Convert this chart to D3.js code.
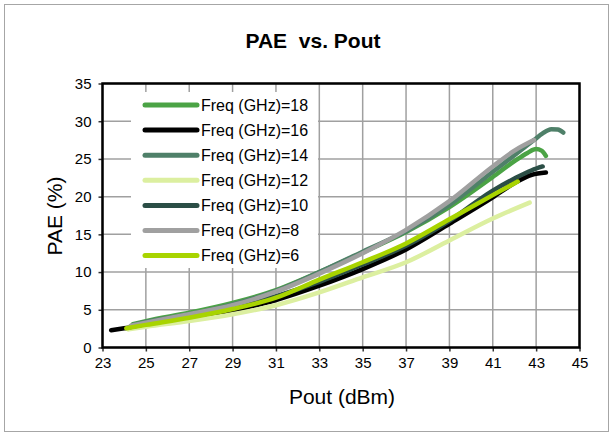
<!DOCTYPE html>
<html>
<head>
<meta charset="utf-8">
<script src="https://cdn.jsdelivr.net/npm/d3@7"></script>
<style>
	body { margin: 0; background: #fff; }
	svg { display: block; font-family: Arial, "Liberation Sans", sans-serif; }
</style>
</head>
<body>
<svg width="613" height="436"></svg>
<script>
// series, in legend order (last one drawn on top)
const freqs = [18, 16, 14, 12, 10, 8, 6];
const colours = ['#4ba345', '#000000', '#4f8069', '#dcefa0', '#2b4e46', '#a0a0a0', '#a8d400'];

const pout_f18 = [24.4, 25, 27, 29, 31, 33, 35, 37, 39, 41, 42, 42.6, 43.0, 43.25, 43.45];
const pae_f18  = [3.1, 3.5, 4.6, 5.9, 7.6, 10.0, 12.6, 15.3, 18.6, 22.6, 24.7, 25.8, 26.3, 26.1, 25.4];
const pout_f16 = [23.4, 24, 25, 27, 29, 31, 33, 35, 37, 39, 41, 42, 42.8, 43.45];
const pae_f16  = [2.3, 2.55, 2.9, 3.8, 4.9, 6.3, 8.2, 10.4, 13.0, 16.4, 19.9, 21.8, 22.9, 23.2];
const pout_f14 = [24.4, 25, 27, 29, 31, 33, 35, 37, 39, 41, 42, 42.9, 43.3, 43.7, 44.0, 44.25];
const pae_f14  = [3.0, 3.4, 4.4, 5.7, 7.5, 10.0, 12.7, 15.4, 18.9, 23.3, 25.5, 27.5, 28.4, 28.95, 28.9, 28.5];
const pout_f12 = [24.2, 25, 27, 29, 31, 33, 35, 37, 39, 41, 42.7];
const pae_f12  = [2.4, 2.75, 3.5, 4.4, 5.6, 7.3, 9.3, 11.3, 14.2, 17.1, 19.2];
const pout_f10 = [24.3, 25, 27, 29, 31, 33, 35, 37, 39, 41, 42, 42.8, 43.3];
const pae_f10  = [2.7, 3.1, 4.1, 5.3, 6.8, 8.7, 11.0, 13.5, 16.8, 20.8, 22.4, 23.5, 24.0];
const pout_f8  = [24.3, 25, 27, 29, 31, 33, 35, 37, 39, 41, 42, 42.9];
const pae_f8   = [2.9, 3.3, 4.4, 5.6, 7.4, 9.8, 12.5, 15.6, 19.4, 24.0, 26.1, 27.5];
const pout_f6  = [24.1, 25, 27, 29, 31, 33, 35, 37, 39, 41, 42.15];
const pae_f6   = [2.55, 3.0, 3.95, 5.1, 6.6, 9.0, 11.3, 13.8, 17.0, 20.2, 22.0];

const xTicks = [23, 25, 27, 29, 31, 33, 35, 37, 39, 41, 43, 45];
const yTicks = [0, 5, 10, 15, 20, 25, 30, 35];

const pouts = [pout_f18, pout_f16, pout_f14, pout_f12, pout_f10, pout_f8, pout_f6];
const paes = [pae_f18, pae_f16, pae_f14, pae_f12, pae_f10, pae_f8, pae_f6];

const plot = { left: 102.5, right: 579.5, top: 83.5, bottom: 347.5 };

let svg = d3.select('svg');

// outer frame
svg.append('rect')
	.attr('x', 4.5).attr('y', 4.5)
	.attr('width', 604).attr('height', 427)
	.attr('fill', '#fff')
	.attr('stroke', '#a6a6a6');

let x = d3.scaleLinear().domain([23, 45]).range([plot.left, plot.right]);
let y = d3.scaleLinear().domain([0, 35]).range([plot.bottom, plot.top]);

// gridlines
let grid = svg.append('g').attr('class', 'grid');
grid.selectAll('line.v')
	.data(xTicks)
	.enter().append('line')
	.attr('x1', d => x(d)).attr('x2', d => x(d))
	.attr('y1', plot.top).attr('y2', plot.bottom)
	.attr('stroke', '#a0a0a0').attr('stroke-width', 1.5);
grid.selectAll('line.h')
	.data(yTicks)
	.enter().append('line')
	.attr('x1', plot.left).attr('x2', plot.right)
	.attr('y1', d => y(d)).attr('y2', d => y(d))
	.attr('stroke', '#a0a0a0').attr('stroke-width', 1.5);

// axes
let xAxis = svg.append('g')
	.attr('transform', 'translate(0,' + plot.bottom + ')')
	.call(d3.axisBottom(x).tickValues(xTicks).tickSize(4).tickSizeOuter(0).tickPadding(6));
let yAxis = svg.append('g')
	.attr('transform', 'translate(' + plot.left + ',0)')
	.call(d3.axisLeft(y).tickValues(yTicks).tickSize(4).tickSizeOuter(0).tickPadding(7));

[xAxis, yAxis].forEach(function(a){
	a.select('.domain').remove();
	a.selectAll('.tick line').attr('stroke', '#333').attr('stroke-width', 1.5);
	a.selectAll('.tick text')
		.attr('fill', '#000')
		.style('font-size', '15px')
		.style('font-family', 'Arial, "Liberation Sans", sans-serif');
});

// plot frame
svg.append('rect')
	.attr('x', plot.left).attr('y', plot.top)
	.attr('width', plot.right - plot.left).attr('height', plot.bottom - plot.top)
	.attr('fill', 'none')
	.attr('stroke', '#000')
	.attr('stroke-width', 2.5);

// legend box (hides gridlines behind it)
let legend = svg.append('g').attr('class', 'legend');
legend.append('rect')
	.attr('x', 131).attr('y', 92)
	.attr('width', 187).attr('height', 176)
	.attr('fill', '#fff');

// curves
let line = d3.line()
	.x(d => x(d[0]))
	.y(d => y(d[1]))
	.curve(d3.curveMonotoneX);

freqs.forEach(function(f, i){
	let pts = d3.zip(pouts[i], paes[i]);
	svg.append('path')
		.datum(pts)
		.attr('d', line)
		.attr('fill', 'none')
		.attr('stroke', colours[i])
		.attr('stroke-width', 4.5)
		.attr('stroke-linecap', 'round')
		.attr('stroke-linejoin', 'round');
});

let rows = legend.selectAll('g.row')
	.data(freqs)
	.enter().append('g')
	.attr('transform', (d, i) => 'translate(0,' + (105 + i * 25.1) + ')');
rows.append('line')
	.attr('x1', 145).attr('x2', 197)
	.attr('stroke', (d, i) => colours[i])
	.attr('stroke-width', 5)
	.attr('stroke-linecap', 'round');
rows.append('text')
	.attr('x', 201).attr('y', 5.8)
	.style('font-size', '16px')
	.text(d => 'Freq (GHz)=' + d);

// titles
svg.append('text')
	.attr('x', 313).attr('y', 48)
	.attr('text-anchor', 'middle')
	.style('font-size', '21px')
	.style('font-weight', 'bold')
	.style('white-space', 'pre')
	.text('PAE  vs. Pout');

svg.append('text')
	.attr('x', 342).attr('y', 404)
	.attr('text-anchor', 'middle')
	.style('font-size', '21px')
	.text('Pout (dBm)');

svg.append('text')
	.attr('transform', 'translate(62,216) rotate(-90)')
	.attr('text-anchor', 'middle')
	.style('font-size', '21px')
	.text('PAE (%)');
</script>
</body>
</html>
